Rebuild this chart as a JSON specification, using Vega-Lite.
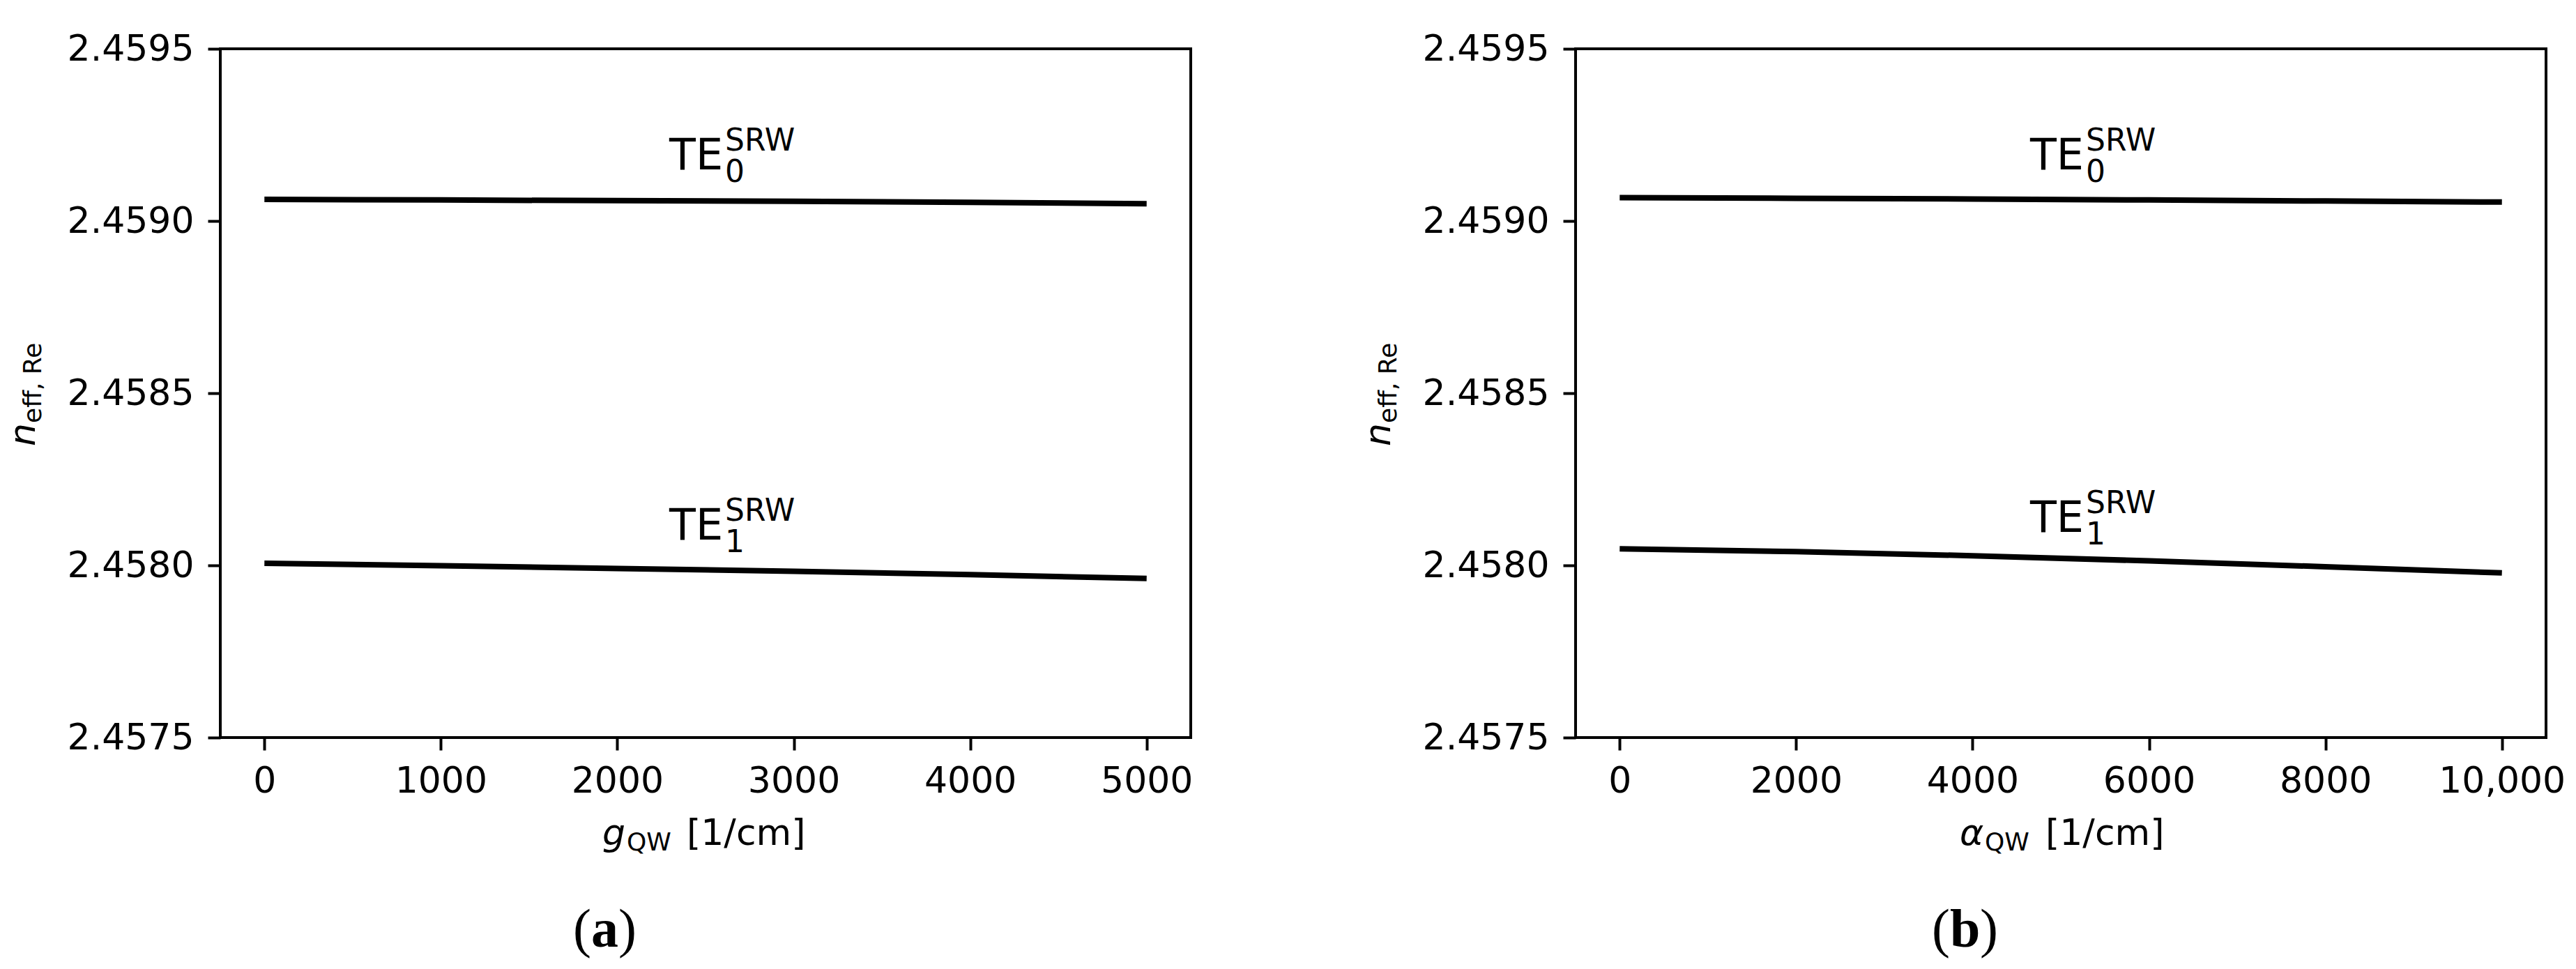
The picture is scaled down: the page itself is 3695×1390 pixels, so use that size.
{
  "$schema": "https://vega.github.io/schema/vega-lite/v6.json",
  "background": "white",
  "padding": {"left": 6, "top": 42, "right": 5, "bottom": 5},
  "bounds": "flush",
  "spacing": 552,
  "config": {
    "view": {"stroke": "black", "strokeWidth": 4},
    "font": "DejaVu Sans",
    "axis": {"grid": false, "domain": false, "ticks": true, "tickSize": 18, "tickWidth": 4, "tickColor": "black", "labelColor": "black", "labelFont": "DejaVu Sans", "labelFontSize": 52, "labelFlush": false, "labelOverlap": false, "labelLimit": 0},
    "axisX": {"labelPadding": 19},
    "axisY": {"labelPadding": 20},
    "text": {"font": "DejaVu Sans", "color": "black"}
  },
  "datasets": {
    "a": [
      {"mode": "TE0", "g": 0, "n": 2.459063},
      {"mode": "TE0", "g": 1000, "n": 2.459061},
      {"mode": "TE0", "g": 2000, "n": 2.459059},
      {"mode": "TE0", "g": 3000, "n": 2.459057},
      {"mode": "TE0", "g": 4000, "n": 2.459054},
      {"mode": "TE0", "g": 5000, "n": 2.459050},
      {"mode": "TE1", "g": 0, "n": 2.458006},
      {"mode": "TE1", "g": 1000, "n": 2.457999},
      {"mode": "TE1", "g": 2000, "n": 2.457991},
      {"mode": "TE1", "g": 3000, "n": 2.457983},
      {"mode": "TE1", "g": 4000, "n": 2.457973},
      {"mode": "TE1", "g": 5000, "n": 2.457962}
    ],
    "b": [
      {"mode": "TE0", "alpha": 0, "n": 2.459068},
      {"mode": "TE0", "alpha": 2000, "n": 2.459066},
      {"mode": "TE0", "alpha": 4000, "n": 2.459064},
      {"mode": "TE0", "alpha": 6000, "n": 2.459061},
      {"mode": "TE0", "alpha": 8000, "n": 2.459058},
      {"mode": "TE0", "alpha": 10000, "n": 2.459055},
      {"mode": "TE1", "alpha": 0, "n": 2.458048},
      {"mode": "TE1", "alpha": 2000, "n": 2.458040},
      {"mode": "TE1", "alpha": 4000, "n": 2.458028},
      {"mode": "TE1", "alpha": 6000, "n": 2.458013},
      {"mode": "TE1", "alpha": 8000, "n": 2.457996},
      {"mode": "TE1", "alpha": 10000, "n": 2.457978}
    ],
    "one": [{}]
  },
  "hconcat": [
    {
      "width": 1392,
      "height": 988,
      "layer": [
        {
          "data": {"name": "a"},
          "mark": {"type": "line", "color": "black", "strokeWidth": 8},
          "encoding": {
            "x": {"field": "g", "type": "quantitative", "scale": {"domain": [-250, 5250], "nice": false, "zero": false}, "axis": {"title": null, "values": [0, 1000, 2000, 3000, 4000, 5000], "format": "d"}},
            "y": {"field": "n", "type": "quantitative", "scale": {"domain": [2.4575, 2.4595], "nice": false, "zero": false}, "axis": {"title": null, "values": [2.4575, 2.458, 2.4585, 2.459, 2.4595], "format": ".4f"}},
            "detail": {"field": "mode"}
          }
        },
        {"data": {"name": "one"}, "mark": {"type": "text", "text": "g", "fontStyle": "italic", "fontSize": 52, "align": "left", "baseline": "alphabetic", "dx": -148, "dy": 154}, "encoding": {"x": {"datum": 2500}, "y": {"datum": 2.4575}}},
        {"data": {"name": "one"}, "mark": {"type": "text", "text": "QW", "fontSize": 36, "align": "left", "baseline": "alphabetic", "dx": -113, "dy": 162}, "encoding": {"x": {"datum": 2500}, "y": {"datum": 2.4575}}},
        {"data": {"name": "one"}, "mark": {"type": "text", "text": "[1/cm]", "fontSize": 52, "align": "left", "baseline": "alphabetic", "dx": -27, "dy": 154}, "encoding": {"x": {"datum": 2500}, "y": {"datum": 2.4575}}},
        {"data": {"name": "one"}, "mark": {"type": "text", "text": "n", "fontStyle": "italic", "fontSize": 52, "angle": 270, "align": "left", "baseline": "alphabetic", "dx": -76, "dy": -266}, "encoding": {"x": {"datum": -250}, "y": {"datum": 2.4585}}},
        {"data": {"name": "one"}, "mark": {"type": "text", "text": "eff, Re", "fontSize": 36, "angle": 270, "align": "left", "baseline": "alphabetic", "dx": -43, "dy": -257}, "encoding": {"x": {"datum": -250}, "y": {"datum": 2.4585}}},
        {"data": {"name": "one"}, "mark": {"type": "text", "text": "TE", "fontSize": 62, "align": "left", "baseline": "alphabetic"}, "encoding": {"x": {"datum": 2295}, "y": {"datum": 2.45915}}},
        {"data": {"name": "one"}, "mark": {"type": "text", "text": "SRW", "fontSize": 44, "align": "left", "baseline": "alphabetic", "dx": 80, "dy": -27}, "encoding": {"x": {"datum": 2295}, "y": {"datum": 2.45915}}},
        {"data": {"name": "one"}, "mark": {"type": "text", "text": "0", "fontSize": 44, "align": "left", "baseline": "alphabetic", "dx": 80, "dy": 18}, "encoding": {"x": {"datum": 2295}, "y": {"datum": 2.45915}}},
        {"data": {"name": "one"}, "mark": {"type": "text", "text": "TE", "fontSize": 62, "align": "left", "baseline": "alphabetic"}, "encoding": {"x": {"datum": 2295}, "y": {"datum": 2.458075}}},
        {"data": {"name": "one"}, "mark": {"type": "text", "text": "SRW", "fontSize": 44, "align": "left", "baseline": "alphabetic", "dx": 80, "dy": -27}, "encoding": {"x": {"datum": 2295}, "y": {"datum": 2.458075}}},
        {"data": {"name": "one"}, "mark": {"type": "text", "text": "1", "fontSize": 44, "align": "left", "baseline": "alphabetic", "dx": 80, "dy": 18}, "encoding": {"x": {"datum": 2295}, "y": {"datum": 2.458075}}},
        {"data": {"name": "one"}, "mark": {"type": "text", "text": "(", "font": "Liberation Serif", "fontSize": 78, "align": "left", "baseline": "alphabetic", "dx": -190, "dy": 300}, "encoding": {"x": {"datum": 2500}, "y": {"datum": 2.4575}}},
        {"data": {"name": "one"}, "mark": {"type": "text", "text": "a", "font": "Liberation Serif", "fontWeight": "bold", "fontSize": 78, "align": "left", "baseline": "alphabetic", "dx": -164, "dy": 300}, "encoding": {"x": {"datum": 2500}, "y": {"datum": 2.4575}}},
        {"data": {"name": "one"}, "mark": {"type": "text", "text": ")", "font": "Liberation Serif", "fontSize": 78, "align": "left", "baseline": "alphabetic", "dx": -125, "dy": 300}, "encoding": {"x": {"datum": 2500}, "y": {"datum": 2.4575}}}
      ]
    },
    {
      "width": 1392,
      "height": 988,
      "layer": [
        {
          "data": {"name": "b"},
          "mark": {"type": "line", "color": "black", "strokeWidth": 8},
          "encoding": {
            "x": {"field": "alpha", "type": "quantitative", "scale": {"domain": [-500, 10500], "nice": false, "zero": false}, "axis": {"title": null, "values": [0, 2000, 4000, 6000, 8000, 10000], "labelExpr": "datum.value >= 10000 ? format(datum.value, ',') : format(datum.value, 'd')"}},
            "y": {"field": "n", "type": "quantitative", "scale": {"domain": [2.4575, 2.4595], "nice": false, "zero": false}, "axis": {"title": null, "values": [2.4575, 2.458, 2.4585, 2.459, 2.4595], "format": ".4f"}},
            "detail": {"field": "mode"}
          }
        },
        {"data": {"name": "one"}, "mark": {"type": "text", "text": "α", "fontStyle": "italic", "fontSize": 52, "align": "left", "baseline": "alphabetic", "dx": -145, "dy": 154}, "encoding": {"x": {"datum": 5000}, "y": {"datum": 2.4575}}},
        {"data": {"name": "one"}, "mark": {"type": "text", "text": "QW", "fontSize": 36, "align": "left", "baseline": "alphabetic", "dx": -109, "dy": 162}, "encoding": {"x": {"datum": 5000}, "y": {"datum": 2.4575}}},
        {"data": {"name": "one"}, "mark": {"type": "text", "text": "[1/cm]", "fontSize": 52, "align": "left", "baseline": "alphabetic", "dx": -22, "dy": 154}, "encoding": {"x": {"datum": 5000}, "y": {"datum": 2.4575}}},
        {"data": {"name": "one"}, "mark": {"type": "text", "text": "n", "fontStyle": "italic", "fontSize": 52, "angle": 270, "align": "left", "baseline": "alphabetic", "dx": -76, "dy": -266}, "encoding": {"x": {"datum": -500}, "y": {"datum": 2.4585}}},
        {"data": {"name": "one"}, "mark": {"type": "text", "text": "eff, Re", "fontSize": 36, "angle": 270, "align": "left", "baseline": "alphabetic", "dx": -43, "dy": -257}, "encoding": {"x": {"datum": -500}, "y": {"datum": 2.4585}}},
        {"data": {"name": "one"}, "mark": {"type": "text", "text": "TE", "fontSize": 62, "align": "left", "baseline": "alphabetic"}, "encoding": {"x": {"datum": 4652}, "y": {"datum": 2.45915}}},
        {"data": {"name": "one"}, "mark": {"type": "text", "text": "SRW", "fontSize": 44, "align": "left", "baseline": "alphabetic", "dx": 80, "dy": -27}, "encoding": {"x": {"datum": 4652}, "y": {"datum": 2.45915}}},
        {"data": {"name": "one"}, "mark": {"type": "text", "text": "0", "fontSize": 44, "align": "left", "baseline": "alphabetic", "dx": 80, "dy": 18}, "encoding": {"x": {"datum": 4652}, "y": {"datum": 2.45915}}},
        {"data": {"name": "one"}, "mark": {"type": "text", "text": "TE", "fontSize": 62, "align": "left", "baseline": "alphabetic"}, "encoding": {"x": {"datum": 4652}, "y": {"datum": 2.458097}}},
        {"data": {"name": "one"}, "mark": {"type": "text", "text": "SRW", "fontSize": 44, "align": "left", "baseline": "alphabetic", "dx": 80, "dy": -27}, "encoding": {"x": {"datum": 4652}, "y": {"datum": 2.458097}}},
        {"data": {"name": "one"}, "mark": {"type": "text", "text": "1", "fontSize": 44, "align": "left", "baseline": "alphabetic", "dx": 80, "dy": 18}, "encoding": {"x": {"datum": 4652}, "y": {"datum": 2.458097}}},
        {"data": {"name": "one"}, "mark": {"type": "text", "text": "(", "font": "Liberation Serif", "fontSize": 78, "align": "left", "baseline": "alphabetic", "dx": -185, "dy": 300}, "encoding": {"x": {"datum": 5000}, "y": {"datum": 2.4575}}},
        {"data": {"name": "one"}, "mark": {"type": "text", "text": "b", "font": "Liberation Serif", "fontWeight": "bold", "fontSize": 78, "align": "left", "baseline": "alphabetic", "dx": -159, "dy": 300}, "encoding": {"x": {"datum": 5000}, "y": {"datum": 2.4575}}},
        {"data": {"name": "one"}, "mark": {"type": "text", "text": ")", "font": "Liberation Serif", "fontSize": 78, "align": "left", "baseline": "alphabetic", "dx": -116, "dy": 300}, "encoding": {"x": {"datum": 5000}, "y": {"datum": 2.4575}}}
      ]
    }
  ]
}
